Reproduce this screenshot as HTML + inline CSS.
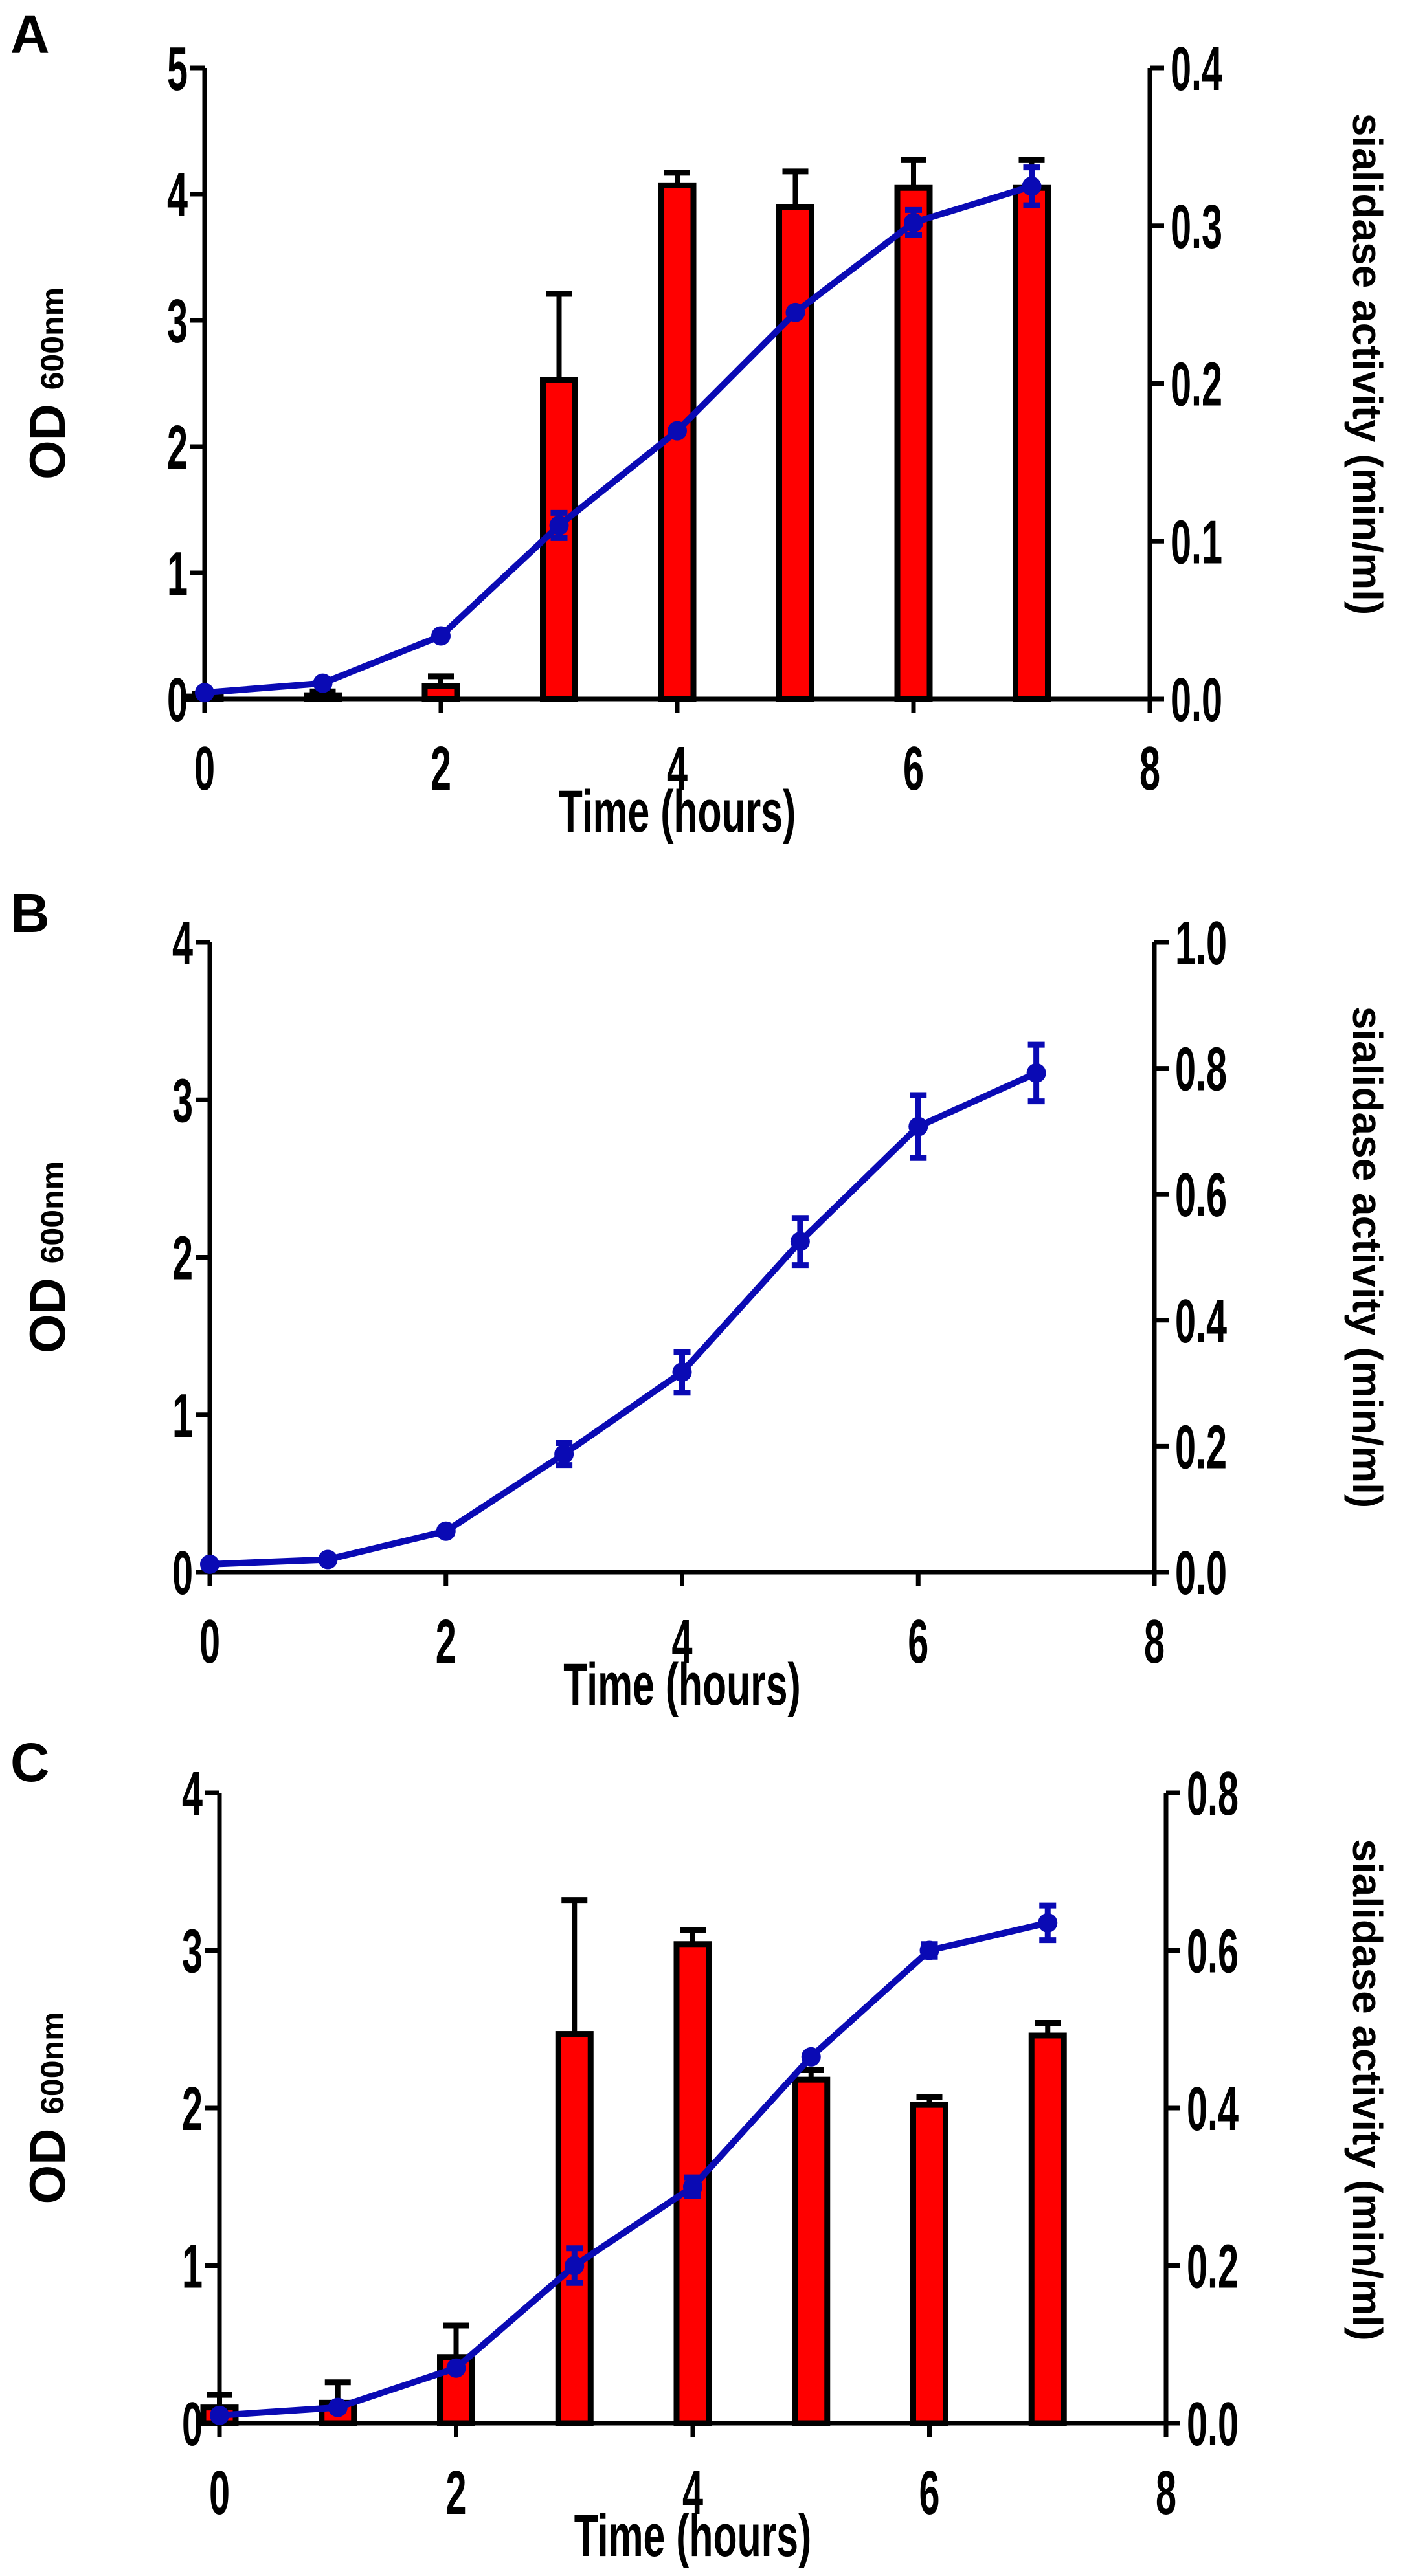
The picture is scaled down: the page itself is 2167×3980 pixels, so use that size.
<!DOCTYPE html>
<html><head><meta charset="utf-8"><style>
html,body{margin:0;padding:0;background:#fff;}
svg{display:block;}
text{font-family:"Liberation Sans",sans-serif;font-weight:bold;fill:#000;}
</style></head><body>
<svg id="fig" width="2167" height="3980" viewBox="0 0 2167 3980" xmlns="http://www.w3.org/2000/svg"></svg>
<script>
// Panel A data
const timesA = [0,1,2,3,4,5,6,7];
const odA = [0.02,0.03,0.10,2.53,4.07,3.90,4.05,4.05];
const odErrA = [0.02,0.03,0.08,0.68,0.10,0.28,0.22,0.22];
const sialA = [0.004,0.010,0.040,0.110,0.170,0.245,0.302,0.325];
const sialErrA = [0,0,0,0.008,0,0,0.008,0.012];
const leftTicksA = ["0","1","2","3","4","5"];
const rightTicksA = ["0.0","0.1","0.2","0.3","0.4"];
// Panel B data
const timesB = [0,1,2,3,4,5,6,7];
const odB = [0.05,0.08,0.26,0.75,1.27,2.10,2.83,3.17];
const odErrB = [0,0,0,0.07,0.13,0.15,0.20,0.18];
const leftTicksB = ["0","1","2","3","4"];
const rightTicksB = ["0.0","0.2","0.4","0.6","0.8","1.0"];
// Panel C data
const timesC = [0,1,2,3,4,5,6,7];
const odC = [0.10,0.13,0.42,2.47,3.04,2.18,2.02,2.46];
const odErrC = [0.08,0.13,0.20,0.85,0.09,0.06,0.05,0.08];
const sialC = [0.010,0.020,0.070,0.200,0.300,0.465,0.600,0.635];
const sialErrC = [0,0,0,0.022,0.012,0,0.008,0.022];
const leftTicksC = ["0","1","2","3","4"];
const rightTicksC = ["0.0","0.2","0.4","0.6","0.8"];
const xTicks = ["0","2","4","6","8"];

const NS="http://www.w3.org/2000/svg";
const svg=document.getElementById('fig');
function mk(tag,attrs,parent){const e=document.createElementNS(NS,tag);for(const k in attrs)e.setAttribute(k,attrs[k]);(parent||svg).appendChild(e);return e;}
function txt(s,x,y,size,anchor,sx,parent,rot){
  const t=mk('text',{'text-anchor':anchor,'font-size':size,transform:`translate(${x},${y}) rotate(${rot||0}) scale(${sx},1)`},parent);
  t.textContent=s;return t;
}

function panel(cfg){
  const g=mk('g',{});
  
  
  const L=cfg.left,R=cfg.right,T=cfg.top,B=cfg.bottom;
  const xs=v=>L+(R-L)*v/8;
  const yl=v=>B-(B-T)*v/cfg.lmax;
  const yr=v=>B-(B-T)*v/cfg.rmax;
  const lt=txt(cfg.id,16,cfg.letterY,84,'start',1,g);
  
  
  if(cfg.od && cfg.bars){
    cfg.times.forEach((t,i)=>{
      const cx=xs(t),w=50;
      const top=yl(cfg.od[i]);
      const e=cfg.odErr[i];
      if(e>0){
        const ey=yl(cfg.od[i]+e);
        const l=mk('line',{x1:cx,x2:cx,y1:top,y2:ey,stroke:'#000','stroke-width':8},g);
        
        
        const c=mk('line',{x1:cx-20,x2:cx+20,y1:ey,y2:ey,stroke:'#000','stroke-width':9},g);
        
        
      }
      const r=mk('rect',{x:cx-w/2,y:top,width:w,height:Math.max(B-top,0),fill:'#ff0000',stroke:'#000','stroke-width':9},g);
      
      
    });
  }
  const ax=mk('path',{d:`M${L},${T}V${B}H${R}`+(cfg.rightAxis?`V${T}`:''),fill:'none',stroke:'#000','stroke-width':7},g);
  
  
  cfg.lt.forEach((s,i)=>{
    const y=yl(i*cfg.lmax/(cfg.lt.length-1));
    mk('line',{x1:L-22,x2:L,y1:y,y2:y,stroke:'#000','stroke-width':7},g);
    const t=txt(s,L-26,y+34,96,'end',0.6,g);
    
    
  });
  if(cfg.rt){
    cfg.rt.forEach((s,i)=>{
      const y=B-(B-T)*i/(cfg.rt.length-1);
      mk('line',{x1:R,x2:R+22,y1:y,y2:y,stroke:'#000','stroke-width':7},g);
      const t=txt(s,R+32,y+34,96,'start',0.6,g);
      
      
    });
  }
  xTicks.forEach((s,i)=>{
    const x=xs(i*2);
    mk('line',{x1:x,x2:x,y1:B,y2:B+22,stroke:'#000','stroke-width':7},g);
    const t=txt(s,x,B+140,96,'middle',0.6,g);
    
    
  });
  const xt=txt('Time (hours)',(L+R)/2,B+205,92,'middle',0.66,g);
  
  
  const mid=(T+B)/2;
  const yt=mk('text',{'text-anchor':'middle','font-size':78,transform:`translate(100,${mid}) rotate(-90)`},g);
  
  
  yt.innerHTML='OD <tspan font-size="50" dy="-2">600nm</tspan>';
  if(cfg.rightTitle){
    const rt=mk('text',{'text-anchor':'middle','font-size':64,transform:`translate(2090,${mid+cfg.rOff}) rotate(90)`},g);
    
    
    rt.textContent='sialidase activity (min/ml)';
  }
  const vals=cfg.line, errs=cfg.lineErr, sc=cfg.lineScale==='r'?yr:yl;
  let d='';
  cfg.times.forEach((t,i)=>{d+=(i?'L':'M')+xs(t)+','+sc(vals[i]);});
  const pl=mk('path',{d,fill:'none',stroke:'#0a0ab4','stroke-width':10,'stroke-linejoin':'round'},g);
  
  
  cfg.times.forEach((t,i)=>{
    const cx=xs(t),cy=sc(vals[i]);
    if(errs[i]>0){
      const y1=sc(vals[i]+errs[i]),y2=sc(vals[i]-errs[i]);
      mk('line',{x1:cx,x2:cx,y1,y2,stroke:'#0a0ab4','stroke-width':9},g);
      mk('line',{x1:cx-13,x2:cx+13,y1,y2:y1,stroke:'#0a0ab4','stroke-width':9},g);
      mk('line',{x1:cx-13,x2:cx+13,y1:y2,y2,stroke:'#0a0ab4','stroke-width':9},g);
    }
    const c=mk('circle',{cx,cy,r:15,fill:'#0a0ab4'},g);
    
    
  });
}

panel({id:'A',left:316,right:1776,top:105,bottom:1080,letterY:82,lmax:5,rmax:0.4,lt:leftTicksA,rt:rightTicksA,rightAxis:true,rightTitle:true,rOff:-30,
  bars:true,times:timesA,od:odA,odErr:odErrA,line:sialA,lineErr:sialErrA,lineScale:'r'});
panel({id:'B',left:324,right:1783,top:1456,bottom:2429,letterY:1440,lmax:4,rmax:1,lt:leftTicksB,rt:rightTicksB,rightAxis:true,rightTitle:true,rOff:0,
  bars:false,times:timesB,od:null,odErr:null,line:odB,lineErr:odErrB,lineScale:'l'});
panel({id:'C',left:339,right:1801,top:2770,bottom:3744,letterY:2752,lmax:4,rmax:0.8,lt:leftTicksC,rt:rightTicksC,rightAxis:true,rightTitle:true,rOff:-28,
  bars:true,times:timesC,od:odC,odErr:odErrC,line:sialC,lineErr:sialErrC,lineScale:'r'});
</script>
</body></html>
